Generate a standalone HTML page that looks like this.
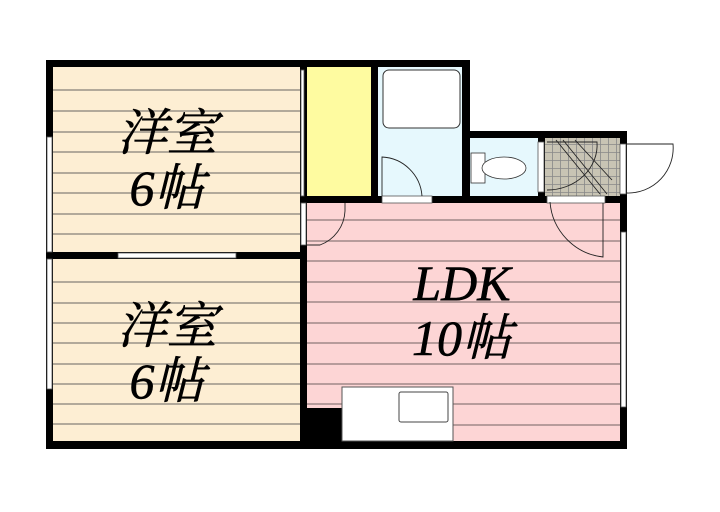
<!DOCTYPE html>
<html><head><meta charset="utf-8"><style>
body{margin:0;background:#fff;width:720px;height:512px;overflow:hidden}
svg{position:absolute;left:0;top:0}
.t{font-family:"Liberation Serif","Noto Serif CJK SC",serif;font-style:italic;font-size:50px;fill:#000;text-anchor:middle;stroke:#000;stroke-width:0.6}
</style></head><body>
<svg width="720" height="512" viewBox="0 0 720 512">
<defs>
<pattern id="tile" width="8" height="8" patternUnits="userSpaceOnUse"><rect width="8" height="8" fill="#c8c4b4"/><path d="M0 0.5H8M0.5 0V8" stroke="#888" stroke-width="0.8"/></pattern>
</defs>
<rect x="53" y="67" width="247" height="185" fill="#fdeed3"/>
<rect x="53" y="259" width="247" height="182" fill="#fdeed3"/>
<rect x="307" y="203" width="313" height="238" fill="#fdd5d5"/>
<g stroke="#9a9288" stroke-width="1.5">
<path d="M53 90H300M53 111H300M53 132H300M53 152H300M53 173H300M53 193H300M53 214H300M53 234H300"/>
<path d="M53 282H300M53 303H300M53 323H300M53 343H300M53 364H300M53 384H300M53 404H300M53 424H300"/>
</g>
<g stroke="#a08888" stroke-width="1.5">
<path d="M307 220H620M307 241H620M307 261H620M307 282H620M307 302H620M307 323H620M307 343H620M307 364H620M307 384H620M307 404H620M307 425H620"/>
</g>
<rect x="307" y="67" width="64" height="129" fill="#fefba0"/>
<rect x="378" y="67" width="84" height="129" fill="#e6f8fd"/>
<rect x="470" y="138" width="68" height="58" fill="#e6f8fd"/>
<rect x="545" y="138" width="75" height="58" fill="url(#tile)"/>
<g fill="#000">
<rect x="46" y="60" width="424" height="7"/>
<rect x="46" y="60" width="7" height="389"/>
<rect x="46" y="441" width="581" height="8"/>
<rect x="300" y="60" width="7" height="389"/>
<rect x="371" y="60" width="7" height="143"/>
<rect x="462" y="60" width="8" height="143"/>
<rect x="462" y="131" width="165" height="7"/>
<rect x="538" y="131" width="7" height="72"/>
<rect x="620" y="131" width="7" height="318"/>
<rect x="300" y="196" width="327" height="7"/>
<rect x="46" y="252" width="261" height="7"/>
<rect x="300" y="408" width="42" height="40"/>
</g>
<g fill="#fff" stroke="#555" stroke-width="0.8">
<rect x="47" y="137" width="5" height="115"/>
<rect x="47" y="259" width="5" height="130"/>
<rect x="118" y="253" width="118" height="5"/>
<rect x="301" y="203" width="5" height="42"/>
<rect x="301" y="70" width="3" height="126"/>
<rect x="621" y="232" width="5" height="175"/>
<rect x="382" y="196" width="50" height="7"/>
<rect x="547" y="196" width="58" height="7"/>
<rect x="538" y="142" width="6" height="50"/>
<rect x="620" y="144" width="6" height="50"/>
</g>
<rect x="383" y="70" width="77" height="58" rx="6" fill="#fff" stroke="#333" stroke-width="1"/>
<g fill="#fff" stroke="#333" stroke-width="0.8">
<rect x="471" y="153" width="14" height="30"/>
<ellipse cx="504" cy="168" rx="22" ry="11"/>
</g>
<g fill="none" stroke="#222" stroke-width="0.9">
<path d="M382 196V157A42 42 0 0 1 422 196"/>
<path d="M307 245H320A38 38 0 0 0 345 211V203"/>
<path d="M550 202A60 60 0 0 0 603 257V203"/>
<path d="M627 144H673A45 45 0 0 1 627 193"/>
<path d="M547 190A50 45 0 0 0 597 142H547"/>
<path d="M556 140L600 194M563 140L607 194M575 140L612 180"/>
</g>
<rect x="342" y="387" width="111" height="54" fill="#fff" stroke="#555" stroke-width="1"/>
<rect x="399" y="392" width="49" height="30" rx="2" fill="#fff" stroke="#444" stroke-width="1"/>
<text class="t" x="167" y="150">洋室</text>
<text class="t" x="167" y="205">6帖</text>
<text class="t" x="167" y="343">洋室</text>
<text class="t" x="167" y="398">6帖</text>
<text class="t" x="462" y="300">LDK</text>
<text class="t" x="462" y="355">10帖</text>
</svg>
</body></html>
